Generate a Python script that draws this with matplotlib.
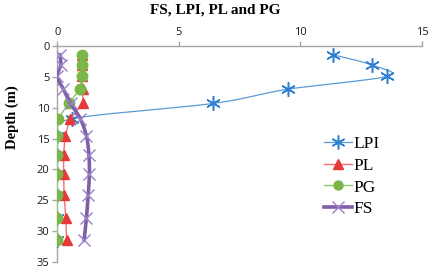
import numpy as np
import matplotlib
matplotlib.use("Agg")
import matplotlib.pyplot as plt
from matplotlib.lines import Line2D

# ---- data ----
depth = [1.4, 3.1, 4.9, 7.0, 9.3, 11.8, 14.6, 17.6, 20.8, 24.2, 27.8, 31.5]
LPI = [11.32, 12.96, 13.58, 9.48, 6.42, 0.6, 0.0, 0.0, 0.0, 0.0, 0.0, 0.0]
PL = [1.0, 1.0, 1.0, 1.05, 1.05, 0.52, 0.32, 0.26, 0.26, 0.28, 0.35, 0.38]
PG = [1.0, 1.0, 1.0, 0.93, 0.47, 0.02, 0.0, 0.0, 0.0, 0.0, 0.0, 0.0]
FS = [0.12, 0.14, 0.0, 0.25, 0.55, 0.95, 1.2, 1.3, 1.32, 1.27, 1.2, 1.1]
xticks = [0, 5, 10, 15]
yticks = [0, 5, 10, 15, 20, 25, 30, 35]
title = "FS, LPI, PL and PG"
ylabel = "Depth (m)"

C_LPI = "#5b9bd5"
C_PL = "#e8393a"
C_PG = "#7ab648"
C_FS = "#7f5fa8"


def smooth(x, y, n=20):
    """Catmull-Rom curve through the given points (display smoothing only)."""
    P = np.column_stack([x, y]).astype(float)
    P = np.vstack([P[0], P, P[-1]])
    out = []
    for i in range(1, len(P) - 2):
        p0, p1, p2, p3 = P[i - 1], P[i], P[i + 1], P[i + 2]
        t = np.linspace(0, 1, n, endpoint=False)[:, None]
        seg = 0.5 * ((2 * p1) + (-p0 + p2) * t + (2 * p0 - 5 * p1 + 4 * p2 - p3) * t ** 2
                     + (-p0 + 3 * p1 - 3 * p2 + p3) * t ** 3)
        out.append(seg)
    out.append(P[-2][None, :])
    out = np.vstack(out)
    return out[:, 0], out[:, 1]


W, H = 429, 269
fig = plt.figure(figsize=(W / 100, H / 100), dpi=100)
ax = fig.add_axes([57.3 / W, 7 / H, (422 - 57.3) / W, (262 - 46) / H])

star = (6, 2, 0)

# LPI
sx, sy = smooth(LPI, depth)
ax.plot(sx, sy, color=C_LPI, lw=0.9, zorder=2)
ax.plot(LPI, depth, ls="none", marker=star, ms=10.5, mew=1.1, color="#2f7fd0", zorder=3)

# PL
ax.plot(PL, depth, color="#f07070", lw=1.0, zorder=4)
ax.plot(PL, depth, ls="none", marker="^", ms=6.5, color=C_PL, zorder=4)

# PG
ax.plot(PG, depth, color="#92c66a", lw=1.0, zorder=5)
ax.plot(PG, depth, ls="none", marker="o", ms=7.5, color=C_PG, zorder=5)

# FS
fx, fy = smooth(FS, depth)
ax.plot(fx, fy, color=C_FS, lw=2.6, zorder=6, solid_capstyle="round")
ax.plot(FS, depth, ls="none", marker="x", ms=8.5, mew=1.0, color="#9b7fc8", zorder=6)

ax.set_xlim(0, 15)
ax.set_ylim(35, 0)
ax.xaxis.tick_top()
ax.set_xticks(xticks)
ax.set_yticks(yticks)
for s in ["right", "bottom"]:
    ax.spines[s].set_visible(False)
for s in ["top", "left"]:
    ax.spines[s].set_color("#a6a6a6")
    ax.spines[s].set_linewidth(1.0)
ax.tick_params(axis="both", direction="out", length=3.5, width=1.0, color="#a6a6a6",
               labelsize=8, labelcolor="#1a1a1a", pad=2)
for lab in ax.get_xticklabels() + ax.get_yticklabels():
    lab.set_family("Open Sans")
ax.patch.set_alpha(0)

fig.text(215 / W, 1 - 10 / H, title, ha="center", va="center",
         family="Liberation Serif", weight="bold", fontsize=11)
fig.text(12 / W, 1 - 117 / H, ylabel, ha="center", va="center", rotation=90,
         family="Liberation Serif", weight="bold", fontsize=10.5)

handles = [
    Line2D([], [], color=C_LPI, lw=0.9, marker=star, ms=10, mew=1.1, mec="#2f7fd0"),
    Line2D([], [], color="#f07070", lw=1.0, marker="^", ms=6.5, mfc=C_PL, mec=C_PL),
    Line2D([], [], color="#92c66a", lw=1.0, marker="o", ms=6.5, mfc=C_PG, mec=C_PG),
    Line2D([], [], color=C_FS, lw=2.6, marker="x", ms=8.5, mew=1.0, mec="#9b7fc8"),
]
leg = fig.legend(handles, ["LPI", "PL", "PG", "FS"], loc="upper left",
                 bbox_to_anchor=(324 / W, 1 - 136 / H), frameon=False,
                 borderpad=0, borderaxespad=0, handlelength=1.6, handletextpad=0.1,
                 labelspacing=0.32, prop={"family": "Liberation Serif", "size": 12.5})

fig.savefig("out.png", dpi=100)
